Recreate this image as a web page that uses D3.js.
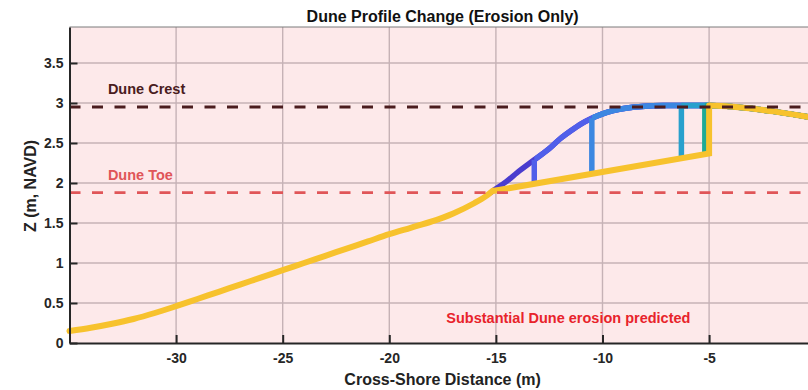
<!DOCTYPE html>
<html>
<head>
<meta charset="utf-8">
<script src="https://cdn.jsdelivr.net/npm/d3@7"></script>
<style>
  html, body { margin: 0; padding: 0; background: #ffffff; }
  svg { display: block; font-family: "Liberation Sans", Arial, Helvetica, sans-serif; }
</style>
</head>
<body>
<svg id="chart" width="808" height="390"></svg>
<script>
// ---------------- data ----------------
const xTicks = [-30, -25, -20, -15, -10, -5];
const yTicks = [0, 0.5, 1, 1.5, 2, 2.5, 3, 3.5];

// initial (pre-storm) profile
const baseX = [-35, -34, -33, -32, -31, -30, -29, -28, -27, -26, -25, -24, -23, -22, -21, -20,
               -19, -18, -17, -16, -15.5, -15.15, -14.5, -14, -13.2, -12.5, -12, -11.5, -11,
               -10.5, -10, -9.5, -9, -8.5, -8, -7, -6.3, -6, -5.2, -5, -4, -3, -2, -1, 0];
const baseZ = [0.15, 0.19, 0.24, 0.30, 0.375, 0.46, 0.55, 0.64, 0.73, 0.82, 0.91, 1.00, 1.09, 1.18, 1.27, 1.36,
               1.44, 1.52, 1.62, 1.75, 1.83, 1.90, 2.02, 2.13, 2.29, 2.43, 2.55, 2.65, 2.74,
               2.81, 2.865, 2.905, 2.932, 2.95, 2.96, 2.968, 2.97, 2.97, 2.97, 2.97, 2.955, 2.93, 2.895, 2.855, 2.81];

const profileToeX = -15.15;
// successive eroded profiles: scarp position and scarp base elevation
const scarpX = [-13.2, -10.5, -6.3, -5.2, -5.0];
const scarpBottomZ = [2.00, 2.13, 2.31, 2.35, 2.37];
const profileColors = ["#4a3cce", "#505fea", "#3c87e1", "#28a0cd", "#1eaa96", "#f7c22d"];

const duneCrestZ = 2.95;
const duneToeZ = 1.88;

// ---------------- layout ----------------
(function () {
const svg = d3.select("#chart");
const pL = 69.5, pR = 815.7, pT = 27, pB = 343;
const x = d3.scaleLinear().domain([-35, 0]).range([pL, pR]);
const y = d3.scaleLinear().domain([0, 3.95]).range([pB, pT]);
const defs = svg.append("defs");

// background
svg.append("rect").attr("x", pL).attr("y", pT)
  .attr("width", pR - pL).attr("height", pB - pT)
  .attr("fill", "#fde9ea");

// grid
const grid = svg.append("g");
grid.selectAll("line.gx").data(xTicks).join("line").attr("class", "gx")
  .attr("x1", d => x(d)).attr("x2", d => x(d))
  .attr("y1", pT).attr("y2", pB)
  .attr("stroke", "#c6b2b6").attr("stroke-width", 1.4);
grid.selectAll("line.gy").data(yTicks.filter(d => d > 0)).join("line").attr("class", "gy")
  .attr("x1", pL).attr("x2", pR)
  .attr("y1", d => y(d)).attr("y2", d => y(d))
  .attr("stroke", "#c6b2b6").attr("stroke-width", 1.4);

// top border
svg.append("line").attr("x1", pL).attr("x2", pR).attr("y1", pT).attr("y2", pT)
  .attr("stroke", "#7a7a7a").attr("stroke-width", 1);

// clip helpers (landward / seaward of a cross-shore position)
function clipRange(id, x0, x1) {
  defs.append("clipPath").attr("id", id).append("rect")
    .attr("x", x0).attr("y", 0).attr("width", Math.max(0, x1 - x0)).attr("height", 390);
  return `url(#${id})`;
}

// profiles
const base = baseX.map((d, i) => ({ x: d, z: baseZ[i] }));
const smooth = d3.line().x(d => x(d.x)).y(d => y(d.z)).curve(d3.curveMonotoneX);
const straight = d3.line().x(d => x(d.x)).y(d => y(d.z));
const basePath = smooth(base);
const prof = svg.append("g").attr("fill", "none").attr("stroke-linecap", "round").attr("stroke-linejoin", "round");
const toeZv = base.find(d => d.x === profileToeX).z;

// profile 0: initial (seaward part is hidden beneath the final profile)
prof.append("path").attr("d", basePath)
  .attr("clip-path", clipRange("c0", x(profileToeX) - 1, 900))
  .attr("stroke", profileColors[0]).attr("stroke-width", 5.5);

scarpX.forEach((sx, i) => {
  const last = i === scarpX.length - 1;
  const col = profileColors[i + 1];
  const w = last ? 6 : 5.5;
  const topZ = base.find(d => d.x === sx).z;
  const g = prof.append("g").attr("stroke", col).attr("stroke-width", w);
  if (last) g.append("path").attr("d", basePath)
    .attr("clip-path", clipRange("cs", 0, x(profileToeX) + 0.5));
  const pts = last
    ? [{ x: profileToeX, z: toeZv }, { x: sx, z: scarpBottomZ[i] }, { x: sx, z: topZ }]
    : [{ x: sx, z: scarpBottomZ[i] }, { x: sx, z: topZ }];
  g.append("path").attr("d", basePath)
    .attr("clip-path", clipRange("c" + (i + 1), x(sx), 900));
  g.append("path").attr("d", straight(pts))
    .attr("stroke-linejoin", "miter").attr("stroke-linecap", last ? "round" : "butt");
});

// dune crest / toe reference lines
svg.append("line").attr("x1", pL).attr("x2", pR)
  .attr("y1", y(duneCrestZ)).attr("y2", y(duneCrestZ))
  .attr("stroke", "#4a1c1e").attr("stroke-width", 3).attr("stroke-dasharray", "11,11.5");
svg.append("line").attr("x1", pL).attr("x2", pR)
  .attr("y1", y(duneToeZ)).attr("y2", y(duneToeZ))
  .attr("stroke", "#e05558").attr("stroke-width", 2.6).attr("stroke-dasharray", "11,11.5");

svg.append("text").attr("x", x(-33.2)).attr("y", y(duneCrestZ + 0.16))
  .attr("fill", "#4a1c1e").attr("font-size", "14.5px").attr("font-weight", "bold")
  .text("Dune Crest");
svg.append("text").attr("x", x(-33.2)).attr("y", y(duneToeZ + 0.16))
  .attr("fill", "#e05558").attr("font-size", "14.5px").attr("font-weight", "bold")
  .text("Dune Toe");

svg.append("text").attr("x", x(-11.6)).attr("y", y(0.25))
  .attr("text-anchor", "middle")
  .attr("fill", "#e8232b").attr("font-size", "14.5px").attr("font-weight", "bold")
  .text("Substantial Dune erosion predicted");

// axes
const axX = svg.append("g").attr("transform", `translate(0,${pB})`)
  .call(d3.axisBottom(x).tickValues(xTicks).tickSizeInner(-8).tickSizeOuter(0).tickPadding(10)
    .tickFormat(d => String(d)));
const axY = svg.append("g").attr("transform", `translate(${pL},0)`)
  .call(d3.axisLeft(y).tickValues(yTicks).tickSizeInner(-8).tickSizeOuter(0).tickPadding(6)
    .tickFormat(d => String(d)));
[axX, axY].forEach(a => {
  a.select(".domain").attr("stroke", "#262626").attr("stroke-width", 2);
  a.selectAll(".tick line").attr("stroke", "#262626").attr("stroke-width", 2);
  a.selectAll(".tick text").attr("fill", "#262626").attr("font-size", "14px")
    .attr("font-weight", "bold").attr("font-family", "Liberation Sans, Arial, sans-serif");
});

// titles
const cx = (pL + pR) / 2;
svg.append("text").attr("x", cx).attr("y", 22).attr("text-anchor", "middle")
  .attr("font-size", "16px").attr("font-weight", "bold").attr("fill", "#111")
  .text("Dune Profile Change (Erosion Only)");
svg.append("text").attr("x", cx).attr("y", 385).attr("text-anchor", "middle")
  .attr("font-size", "16px").attr("font-weight", "bold").attr("fill", "#222")
  .text("Cross-Shore Distance (m)");
svg.append("text").attr("transform", `translate(36,186) rotate(-90)`).attr("text-anchor", "middle")
  .attr("font-size", "16px").attr("font-weight", "bold").attr("fill", "#222")
  .text("Z (m, NAVD)");
})();
</script>
</body>
</html>
